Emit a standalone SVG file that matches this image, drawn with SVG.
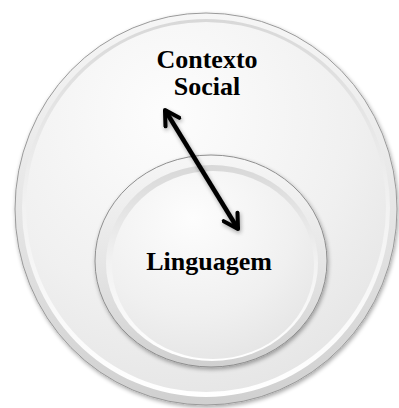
<svg xmlns="http://www.w3.org/2000/svg" width="399" height="408" viewBox="0 0 399 408">
<defs>
<linearGradient id="rimOuter" x1="0" y1="0" x2="0" y2="1">
<stop offset="0" stop-color="#f6f6f6"/><stop offset="0.5" stop-color="#e6e6e6"/><stop offset="1" stop-color="#d0d0d0"/>
</linearGradient>
<linearGradient id="rimInner" x1="0" y1="0" x2="0" y2="1">
<stop offset="0" stop-color="#d8d8d8"/><stop offset="0.5" stop-color="#f2f2f2"/><stop offset="1" stop-color="#ffffff"/>
</linearGradient>
<radialGradient id="face" cx="0.4" cy="0.25" r="0.85">
<stop offset="0" stop-color="#fdfdfd"/><stop offset="0.6" stop-color="#f0f0f0"/><stop offset="1" stop-color="#e3e3e3"/>
</radialGradient>
<filter id="sh" x="-10%" y="-10%" width="120%" height="120%">
<feGaussianBlur in="SourceAlpha" stdDeviation="2"/><feOffset dx="1" dy="2"/>
<feComponentTransfer><feFuncA type="linear" slope="0.35"/></feComponentTransfer>
<feMerge><feMergeNode/><feMergeNode in="SourceGraphic"/></feMerge>
</filter>
<marker id="chev" viewBox="0 0 10 10" refX="8.5" refY="5" markerWidth="4.5" markerHeight="4.5" orient="auto-start-reverse" markerUnits="strokeWidth">
<path d="M1.5,1 L8.5,5 L1.5,9" fill="none" stroke="#000" stroke-width="2" stroke-linecap="round" stroke-linejoin="round"/>
</marker>
<style>
.t{font-family:"Liberation Serif","Times New Roman",serif;font-weight:bold;font-size:26px;fill:#000;text-anchor:middle}
</style>
</defs>
<g id="contexto-social">
<ellipse cx="206" cy="209" rx="191" ry="196" fill="url(#rimOuter)" stroke="#9a9a9a" stroke-width="1" filter="url(#sh)"/>
<ellipse cx="206" cy="208" rx="184" ry="189" fill="url(#rimInner)"/>
<ellipse cx="206" cy="207" rx="180" ry="185" fill="url(#face)"/>
<text class="t" x="207" y="68">Contexto</text>
<text class="t" x="207" y="95">Social</text>
</g>
<g id="linguagem">
<ellipse cx="211" cy="261" rx="116" ry="106" fill="url(#rimOuter)" stroke="#8f8f8f" stroke-width="1" filter="url(#sh)"/>
<ellipse cx="212" cy="263" rx="106" ry="98" fill="url(#rimInner)"/>
<ellipse cx="213" cy="265" rx="101" ry="94" fill="url(#face)"/>
<text class="t" x="209" y="270">Linguagem</text>
</g>
<g id="connectors">
<line x1="165" y1="110" x2="238" y2="229" stroke="#000" stroke-width="4.5" marker-start="url(#chev)" marker-end="url(#chev)" filter="url(#sh)"/>
</g>
</svg>
